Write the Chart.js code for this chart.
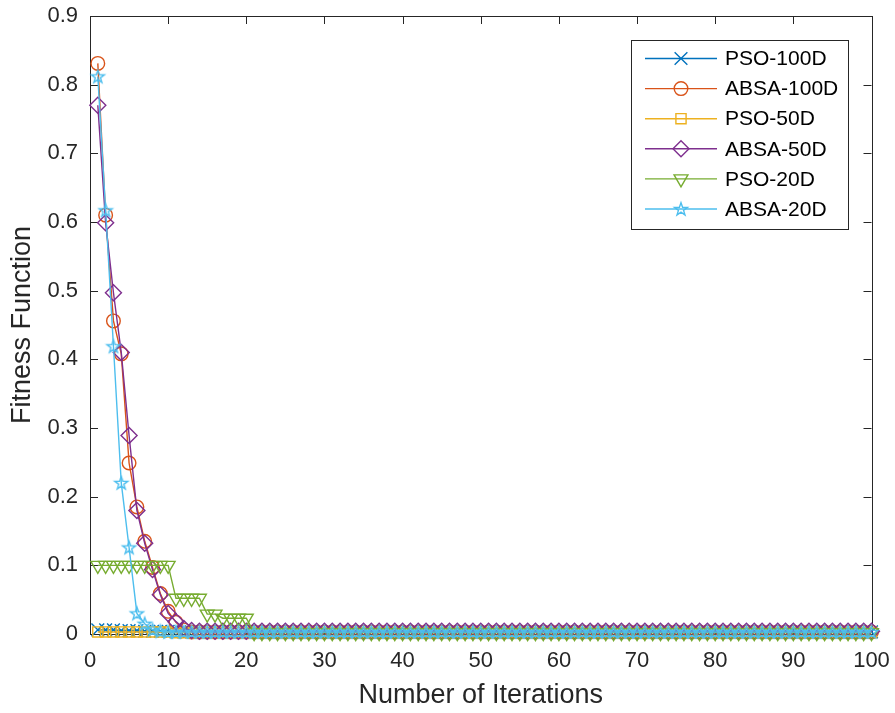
<!DOCTYPE html>
<html>
<head>
<meta charset="utf-8">
<title>Fitness Function vs Iterations</title>
<script src="https://cdn.jsdelivr.net/npm/chart.js@4.4.0/dist/chart.umd.min.js"></script>
<style>
  html, body { margin: 0; padding: 0; background: #fff; }
  canvas { display: block; }
</style>
</head>
<body>
<canvas id="chart" width="895" height="713"></canvas>
<script>
// iterations 1..100 on the x axis
const iterations = Array.from({ length: 100 }, (_, i) => i + 1);

const xTickLabels = ["0", "10", "20", "30", "40", "50", "60", "70", "80", "90", "100"];
const yTickLabels = ["0", "0.1", "0.2", "0.3", "0.4", "0.5", "0.6", "0.7", "0.8", "0.9"];

const seriesNames = ["PSO-100D", "ABSA-100D", "PSO-50D", "ABSA-50D", "PSO-20D", "ABSA-20D"];

const pso100D = [
  0.006, 0.006, 0.006, 0.005, 0.005, 0.005, 0.004, 0.004, 0.004, 0.004,
  0.003, 0.003, 0.003, 0.003, 0.003, 0.003, 0.003, 0.003, 0.003, 0.003,
  0.003, 0.003, 0.003, 0.003, 0.003, 0.003, 0.003, 0.003, 0.003, 0.003,
  0.003, 0.003, 0.003, 0.003, 0.003, 0.003, 0.003, 0.003, 0.003, 0.003,
  0.003, 0.003, 0.003, 0.003, 0.003, 0.003, 0.003, 0.003, 0.003, 0.003,
  0.003, 0.003, 0.003, 0.003, 0.003, 0.003, 0.003, 0.003, 0.003, 0.003,
  0.003, 0.003, 0.003, 0.003, 0.003, 0.003, 0.003, 0.003, 0.003, 0.003,
  0.003, 0.003, 0.003, 0.003, 0.003, 0.003, 0.003, 0.003, 0.003, 0.003,
  0.003, 0.003, 0.003, 0.003, 0.003, 0.003, 0.003, 0.003, 0.003, 0.003,
  0.003, 0.003, 0.003, 0.003, 0.003, 0.003, 0.003, 0.003, 0.003, 0.003
];

const absa100D = [
  0.831, 0.610, 0.456, 0.408, 0.249, 0.185, 0.135, 0.097, 0.059, 0.033,
  0.017, 0.006, 0.003, 0.003, 0.003, 0.003, 0.003, 0.003, 0.003, 0.003,
  0.003, 0.003, 0.003, 0.003, 0.003, 0.003, 0.003, 0.003, 0.003, 0.003,
  0.003, 0.003, 0.003, 0.003, 0.003, 0.003, 0.003, 0.003, 0.003, 0.003,
  0.003, 0.003, 0.003, 0.003, 0.003, 0.003, 0.003, 0.003, 0.003, 0.003,
  0.003, 0.003, 0.003, 0.003, 0.003, 0.003, 0.003, 0.003, 0.003, 0.003,
  0.003, 0.003, 0.003, 0.003, 0.003, 0.003, 0.003, 0.003, 0.003, 0.003,
  0.003, 0.003, 0.003, 0.003, 0.003, 0.003, 0.003, 0.003, 0.003, 0.003,
  0.003, 0.003, 0.003, 0.003, 0.003, 0.003, 0.003, 0.003, 0.003, 0.003,
  0.003, 0.003, 0.003, 0.003, 0.003, 0.003, 0.003, 0.003, 0.003, 0.003
];

const pso50D = [
  0.003, 0.003, 0.003, 0.003, 0.003, 0.003, 0.003, 0.003, 0.003, 0.003,
  0.002, 0.002, 0.002, 0.002, 0.002, 0.002, 0.002, 0.002, 0.002, 0.002,
  0.002, 0.002, 0.002, 0.002, 0.002, 0.002, 0.002, 0.002, 0.002, 0.002,
  0.002, 0.002, 0.002, 0.002, 0.002, 0.002, 0.002, 0.002, 0.002, 0.002,
  0.002, 0.002, 0.002, 0.002, 0.002, 0.002, 0.002, 0.002, 0.002, 0.002,
  0.002, 0.002, 0.002, 0.002, 0.002, 0.002, 0.002, 0.002, 0.002, 0.002,
  0.002, 0.002, 0.002, 0.002, 0.002, 0.002, 0.002, 0.002, 0.002, 0.002,
  0.002, 0.002, 0.002, 0.002, 0.002, 0.002, 0.002, 0.002, 0.002, 0.002,
  0.002, 0.002, 0.002, 0.002, 0.002, 0.002, 0.002, 0.002, 0.002, 0.002,
  0.002, 0.002, 0.002, 0.002, 0.002, 0.002, 0.002, 0.002, 0.002, 0.002
];

const absa50D = [
  0.770, 0.599, 0.497, 0.410, 0.289, 0.180, 0.132, 0.094, 0.057, 0.030,
  0.018, 0.008, 0.005, 0.004, 0.004, 0.004, 0.004, 0.004, 0.004, 0.004,
  0.004, 0.004, 0.004, 0.004, 0.004, 0.004, 0.004, 0.004, 0.004, 0.004,
  0.004, 0.004, 0.004, 0.004, 0.004, 0.004, 0.004, 0.004, 0.004, 0.004,
  0.004, 0.004, 0.004, 0.004, 0.004, 0.004, 0.004, 0.004, 0.004, 0.004,
  0.004, 0.004, 0.004, 0.004, 0.004, 0.004, 0.004, 0.004, 0.004, 0.004,
  0.004, 0.004, 0.004, 0.004, 0.004, 0.004, 0.004, 0.004, 0.004, 0.004,
  0.004, 0.004, 0.004, 0.004, 0.004, 0.004, 0.004, 0.004, 0.004, 0.004,
  0.004, 0.004, 0.004, 0.004, 0.004, 0.004, 0.004, 0.004, 0.004, 0.004,
  0.004, 0.004, 0.004, 0.004, 0.004, 0.004, 0.004, 0.004, 0.004, 0.004
];

const pso20D = [
  0.100, 0.100, 0.100, 0.100, 0.100, 0.100, 0.100, 0.100, 0.100, 0.100,
  0.052, 0.052, 0.052, 0.052, 0.029, 0.029, 0.023, 0.023, 0.023, 0.023,
  0.002, 0.002, 0.002, 0.002, 0.002, 0.002, 0.002, 0.002, 0.002, 0.002,
  0.002, 0.002, 0.002, 0.002, 0.002, 0.002, 0.002, 0.002, 0.002, 0.002,
  0.002, 0.002, 0.002, 0.002, 0.002, 0.002, 0.002, 0.002, 0.002, 0.002,
  0.002, 0.002, 0.002, 0.002, 0.002, 0.002, 0.002, 0.002, 0.002, 0.002,
  0.002, 0.002, 0.002, 0.002, 0.002, 0.002, 0.002, 0.002, 0.002, 0.002,
  0.002, 0.002, 0.002, 0.002, 0.002, 0.002, 0.002, 0.002, 0.002, 0.002,
  0.002, 0.002, 0.002, 0.002, 0.002, 0.002, 0.002, 0.002, 0.002, 0.002,
  0.002, 0.002, 0.002, 0.002, 0.002, 0.002, 0.002, 0.002, 0.002, 0.002
];

const absa20D = [
  0.812, 0.617, 0.419, 0.220, 0.126, 0.030, 0.015, 0.006, 0.004, 0.003,
  0.003, 0.003, 0.003, 0.003, 0.003, 0.003, 0.003, 0.003, 0.003, 0.003,
  0.003, 0.003, 0.003, 0.003, 0.003, 0.003, 0.003, 0.003, 0.003, 0.003,
  0.003, 0.003, 0.003, 0.003, 0.003, 0.003, 0.003, 0.003, 0.003, 0.003,
  0.003, 0.003, 0.003, 0.003, 0.003, 0.003, 0.003, 0.003, 0.003, 0.003,
  0.003, 0.003, 0.003, 0.003, 0.003, 0.003, 0.003, 0.003, 0.003, 0.003,
  0.003, 0.003, 0.003, 0.003, 0.003, 0.003, 0.003, 0.003, 0.003, 0.003,
  0.003, 0.003, 0.003, 0.003, 0.003, 0.003, 0.003, 0.003, 0.003, 0.003,
  0.003, 0.003, 0.003, 0.003, 0.003, 0.003, 0.003, 0.003, 0.003, 0.003,
  0.003, 0.003, 0.003, 0.003, 0.003, 0.003, 0.003, 0.003, 0.003, 0.003
];

const FONT = "'Liberation Sans', Arial, Helvetica, sans-serif";
const AXIS_COLOR = "#262626";
const LINE_W = 1.4;

// hollow five-point star used as a marker
function makeStar(color) {
  const c = document.createElement("canvas");
  c.width = 18;
  c.height = 18;
  const g = c.getContext("2d");
  const R = 6.8, r = 2.7;
  g.beginPath();
  for (let k = 0; k < 10; k++) {
    const rad = k % 2 === 0 ? R : r;
    const a = -Math.PI / 2 + k * Math.PI / 5;
    const px = 9 + rad * Math.cos(a), py = 9.5 + rad * Math.sin(a);
    if (k === 0) g.moveTo(px, py); else g.lineTo(px, py);
  }
  g.closePath();
  g.strokeStyle = color;
  g.lineWidth = LINE_W;
  g.stroke();
  return c;
}

const styles = [
  { color: "#0072BD", pointStyle: "crossRot", radius: 9, rotation: 0 },
  { color: "#D95319", pointStyle: "circle", radius: 6.8, rotation: 0 },
  { color: "#EDB120", pointStyle: "rect", radius: 7.2, rotation: 0 },
  { color: "#7E2F8E", pointStyle: "rectRot", radius: 8, rotation: 0 },
  { color: "#77AC30", pointStyle: "triangle", radius: 8, rotation: 180 },
  { color: "#4DBEEE", pointStyle: makeStar("#4DBEEE"), radius: 7, rotation: 0 }
];

const seriesValues = [pso100D, absa100D, pso50D, absa50D, pso20D, absa20D];

const datasets = seriesValues.map((vals, i) => ({
  label: seriesNames[i],
  data: vals.map((v, k) => ({ x: iterations[k], y: v })),
  borderColor: styles[i].color,
  backgroundColor: styles[i].color,
  borderWidth: LINE_W,
  pointStyle: styles[i].pointStyle,
  pointRadius: styles[i].radius,
  pointRotation: styles[i].rotation,
  pointBorderColor: styles[i].color,
  pointBackgroundColor: "rgba(0,0,0,0)",
  pointBorderWidth: LINE_W,
  tension: 0,
  clip: false,
  // later series sit on top
  order: seriesValues.length - 1 - i
}));

// box around the axes with inward ticks on all four sides
const axesBox = {
  id: "axesBox",
  beforeDatasetsDraw(chart) {
    const { ctx, chartArea: a, scales } = chart;
    const len = 8;
    ctx.save();
    ctx.strokeStyle = AXIS_COLOR;
    ctx.lineWidth = 1;
    ctx.strokeRect(Math.round(a.left) + 0.5, Math.round(a.top) + 0.5,
      Math.round(a.right - a.left), Math.round(a.bottom - a.top));
    ctx.beginPath();
    scales.x.ticks.forEach(t => {
      const px = Math.round(scales.x.getPixelForValue(t.value)) + 0.5;
      ctx.moveTo(px, a.bottom); ctx.lineTo(px, a.bottom - len);
      ctx.moveTo(px, a.top); ctx.lineTo(px, a.top + len);
    });
    scales.y.ticks.forEach(t => {
      const py = Math.round(scales.y.getPixelForValue(t.value)) + 0.5;
      ctx.moveTo(a.left, py); ctx.lineTo(a.left + len, py);
      ctx.moveTo(a.right, py); ctx.lineTo(a.right - len, py);
    });
    ctx.stroke();
    ctx.restore();
  }
};

// boxed legend with line + marker samples
const boxLegend = {
  id: "boxLegend",
  afterDraw(chart) {
    const ctx = chart.ctx;
    const left = 631, top = 40, width = 217, height = 189;
    const rowY = 58.5, rowGap = 30.1;
    ctx.save();
    ctx.fillStyle = "#fff";
    ctx.fillRect(left, top, width, height);
    ctx.strokeStyle = AXIS_COLOR;
    ctx.lineWidth = 1;
    ctx.strokeRect(left + 0.5, top + 0.5, width, height);
    ctx.font = "21px " + FONT;
    ctx.textBaseline = "middle";
    ctx.textAlign = "left";
    chart.data.datasets.forEach((ds, i) => {
      const y = rowY + i * rowGap;
      ctx.strokeStyle = ds.borderColor;
      ctx.lineWidth = LINE_W;
      ctx.beginPath();
      ctx.moveTo(645, y); ctx.lineTo(717, y);
      ctx.stroke();
      if (Chart.helpers && Chart.helpers.drawPoint) {
        ctx.fillStyle = "rgba(0,0,0,0)";
        Chart.helpers.drawPoint(ctx, {
          pointStyle: ds.pointStyle,
          radius: ds.pointRadius,
          rotation: ds.pointRotation,
          borderWidth: LINE_W
        }, 681, y);
      }
      ctx.fillStyle = "#000";
      ctx.fillText(ds.label, 725, y + 1);
    });
    ctx.restore();
  }
};

const tickFont = { family: FONT, size: 22 };
const titleFont = { family: FONT, size: 27 };

new Chart(document.getElementById("chart").getContext("2d"), {
  type: "line",
  data: { datasets },
  options: {
    responsive: false,
    animation: false,
    devicePixelRatio: 1,
    layout: { padding: { top: 16, right: 23.5, left: 0, bottom: 0 } },
    plugins: { legend: { display: false }, tooltip: { enabled: false } },
    scales: {
      x: {
        type: "linear",
        min: 0,
        max: 100,
        ticks: {
          stepSize: 10,
          padding: 14,
          maxRotation: 0,
          color: AXIS_COLOR,
          font: tickFont,
          callback: (v, idx) => xTickLabels[idx]
        },
        grid: { display: false, drawTicks: false },
        border: { display: false },
        title: {
          display: true,
          text: "Number of Iterations",
          color: AXIS_COLOR,
          font: titleFont,
          padding: { top: 0, bottom: 1 }
        },
        afterFit(scale) {
          scale.height = 79;
          scale.paddingLeft = 0;
          scale.paddingRight = 0;
        }
      },
      y: {
        min: 0,
        max: 0.9,
        ticks: {
          stepSize: 0.1,
          padding: 12,
          color: AXIS_COLOR,
          font: tickFont,
          callback: (v, idx) => yTickLabels[idx]
        },
        grid: { display: false, drawTicks: false },
        border: { display: false },
        title: {
          display: true,
          text: "Fitness Function",
          color: AXIS_COLOR,
          font: titleFont,
          padding: { top: 6, bottom: 0 }
        },
        afterFit(scale) {
          scale.width = 90;
          scale.paddingTop = 0;
          scale.paddingBottom = 0;
        }
      }
    }
  },
  plugins: [axesBox, boxLegend]
});
</script>
</body>
</html>
